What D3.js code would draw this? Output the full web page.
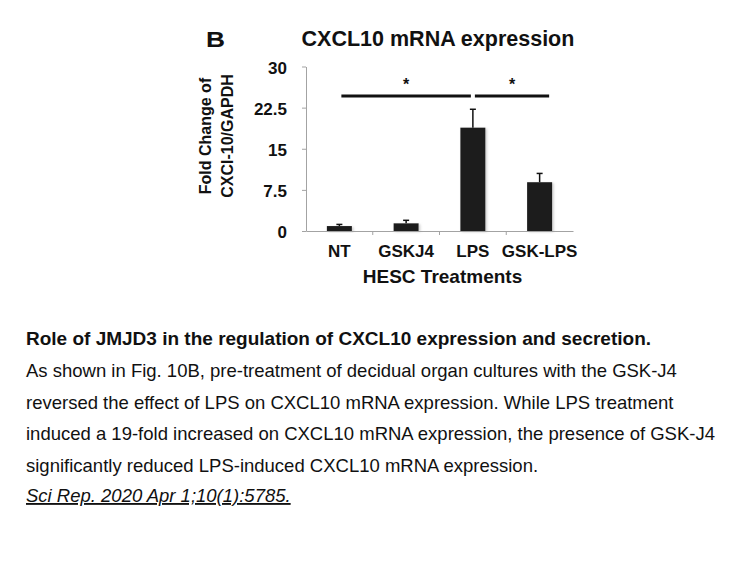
<!DOCTYPE html>
<html lang="en">
<head>
<meta charset="UTF-8">
<title>CXCL10 mRNA expression</title>
<style>
body { margin: 0; background: #fff; }
svg { display: block; font-family: "Liberation Sans", Arial, sans-serif; }
.axis path, .axis line { stroke: #a3a3a3; stroke-width: 1px; }
.bold { font-weight: bold; fill: #111; }
.caption { font-size: 18.5px; fill: #111; }
</style>
</head>
<body>
<script src="https://cdnjs.cloudflare.com/ajax/libs/d3/7.8.5/d3.min.js"></script>
<script>
// values
var categories = ["NT", "GSKJ4", "LPS", "GSK-LPS"];
var means = [0.9, 1.4, 18.85, 8.9];
var errors = [0.3, 0.55, 3.35, 1.6];
var yTicks = [0, 7.5, 15, 22.5, 30];
var sigPairs = [["NT", "LPS"], ["LPS", "GSK-LPS"]];
var sigMarks = ["*", "*"];
var sigLevel = 24.6;

var captionLines = [
  "As shown in Fig. 10B, pre-treatment of decidual organ cultures with the GSK-J4",
  "reversed the effect of LPS on CXCL10 mRNA expression. While LPS treatment",
  "induced a 19-fold increased on CXCL10 mRNA expression, the presence of GSK-J4",
  "significantly reduced LPS-induced CXCL10 mRNA expression."
];

var width = 756, height = 567;
var svg = d3.select("body").append("svg")
  .attr("width", width).attr("height", height);

var defs = svg.append("defs");
defs.append("filter").attr("id", "shadow")
  .attr("x", "-20%").attr("y", "-20%").attr("width", "150%").attr("height", "150%")
  .append("feDropShadow")
  .attr("dx", 1.5).attr("dy", 1).attr("stdDeviation", 1)
  .attr("flood-color", "#999").attr("flood-opacity", 0.5);

var x = d3.scaleBand().domain(categories).range([306, 573])
  .paddingInner(0.625).paddingOuter(0.3125);
var y = d3.scaleLinear().domain([0, 30]).range([231, 66.5]);
var cx = d => x(d) + x.bandwidth() / 2;

// axes
svg.append("g").attr("class", "axis")
  .attr("transform", "translate(306,0)")
  .call(d3.axisLeft(y).tickValues(yTicks).tickSize(4).tickSizeOuter(0).tickFormat(""));

var xAxis = svg.append("g").attr("class", "axis")
  .attr("transform", "translate(0,231)")
  .call(d3.axisBottom(x).tickSize(0).tickFormat(""));
// ticks between categories
xAxis.selectAll(".sep").data(categories.slice(1)).enter().append("line")
  .attr("class", "sep")
  .attr("x1", d => x(d) - x.step() * x.paddingInner() / 2)
  .attr("x2", d => x(d) - x.step() * x.paddingInner() / 2)
  .attr("y1", 0).attr("y2", 4)
  .attr("stroke", "#a3a3a3");

svg.append("g").selectAll("text").data(yTicks).enter().append("text")
  .attr("class", "bold")
  .attr("x", 287).attr("y", d => y(d) + 1.5)
  .attr("dy", "0.35em")
  .attr("text-anchor", "end")
  .style("font-size", "17px")
  .text(d => d);

svg.append("g").selectAll("text").data(categories).enter().append("text")
  .attr("class", "bold")
  .attr("x", d => cx(d)).attr("y", 256.5)
  .attr("text-anchor", "middle")
  .style("font-size", "17px")
  .text(d => d);

// bars
var rows = categories.map((c, i) => ({ cat: c, v: means[i], e: errors[i] }));
svg.append("g").selectAll("rect").data(rows).enter().append("rect")
  .attr("x", d => x(d.cat)).attr("width", x.bandwidth())
  .attr("y", d => y(d.v)).attr("height", d => y(0) - y(d.v))
  .attr("fill", "#1b1b1b")
  .attr("filter", "url(#shadow)");

// error bars (upper only)
var err = svg.append("g").attr("stroke", "#111").attr("stroke-width", 1.5);
err.selectAll("line.v").data(rows).enter().append("line").attr("class", "v")
  .attr("x1", d => cx(d.cat)).attr("x2", d => cx(d.cat))
  .attr("y1", d => y(d.v)).attr("y2", d => y(d.v + d.e));
err.selectAll("line.h").data(rows).enter().append("line").attr("class", "h")
  .attr("x1", d => cx(d.cat) - 3).attr("x2", d => cx(d.cat) + 3)
  .attr("y1", d => y(d.v + d.e)).attr("y2", d => y(d.v + d.e));

// significance bars
var sig = svg.append("g");
sigPairs.forEach(function (p, i) {
  var x1 = cx(p[0]) + 2;
  var x2 = i === 0 ? cx(p[1]) - 2 : x(p[1]) + x.bandwidth() - 3;
  sig.append("line")
    .attr("x1", x1).attr("x2", x2)
    .attr("y1", y(sigLevel)).attr("y2", y(sigLevel))
    .attr("stroke", "#111").attr("stroke-width", 3);
  sig.append("text").attr("class", "bold")
    .attr("x", (x1 + x2) / 2).attr("y", y(sigLevel) - 6)
    .attr("text-anchor", "middle")
    .style("font-size", "16px")
    .text(sigMarks[i]);
});

// titles
svg.append("text").attr("class", "bold")
  .attr("x", 206).attr("y", 46.5)
  .attr("textLength", 19).attr("lengthAdjust", "spacingAndGlyphs")
  .style("font-size", "22px").text("B");

svg.append("text").attr("class", "bold")
  .attr("x", 438).attr("y", 45.7)
  .attr("text-anchor", "middle")
  .style("font-size", "21.5px")
  .text("CXCL10 mRNA expression");

svg.append("text").attr("class", "bold")
  .attr("x", 442.5).attr("y", 283)
  .attr("text-anchor", "middle")
  .style("font-size", "19px")
  .text("HESC Treatments");

var yl = svg.append("text").attr("class", "bold")
  .attr("transform", "translate(0,136) rotate(-90)")
  .attr("text-anchor", "middle")
  .style("font-size", "16px");
yl.append("tspan").attr("x", 0).attr("y", 211).text("Fold Change of");
yl.append("tspan").attr("x", 0).attr("y", 233).text("CXCI-10/GAPDH");

// caption
svg.append("text").attr("class", "bold")
  .attr("x", 26).attr("y", 345)
  .style("font-size", "19px")
  .text("Role of JMJD3 in the regulation of CXCL10 expression and secretion.");

var baselines = [377, 408.5, 440, 471.5];
svg.append("g").selectAll("text").data(captionLines).enter().append("text")
  .attr("class", "caption")
  .attr("x", 26).attr("y", (d, i) => baselines[i])
  .text(d => d);

svg.append("text").attr("class", "caption")
  .attr("x", 26).attr("y", 502)
  .style("font-style", "italic")
  .style("text-decoration", "underline")
  .text("Sci Rep. 2020 Apr 1;10(1):5785.");
</script>
</body>
</html>
